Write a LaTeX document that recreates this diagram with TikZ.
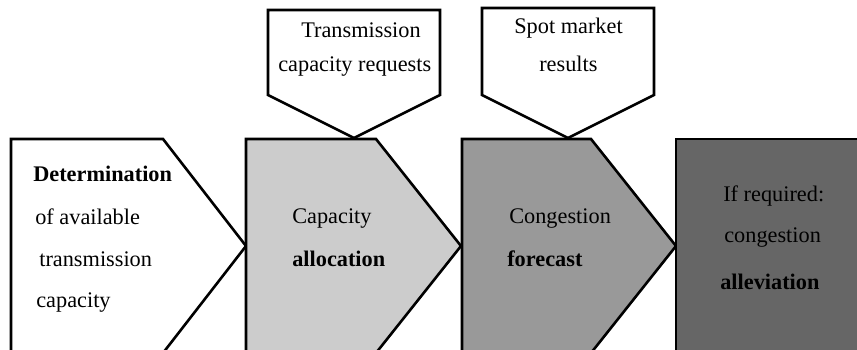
\documentclass[tikz,border=0pt]{standalone}
\usepackage{fontspec}
\setmainfont{Liberation Serif}
\begin{document}
\begin{tikzpicture}[x=1pt, y=-1pt, line width=2.6pt, line join=miter,
  stagebox/.style={draw=black},
  callout/.style={draw=black, fill=white},
  lbl/.style={anchor=base west, inner sep=0pt, text=black,
    font=\fontsize{22.3}{26}\selectfont},
  blbl/.style={lbl, font=\fontsize{22.3}{26}\selectfont\bfseries}]
\definecolor{stageA}{HTML}{CCCCCC}
\definecolor{stageB}{HTML}{999999}
\definecolor{stageC}{HTML}{666666}
\useasboundingbox (0,0) rectangle (857,350);
\begin{scope}
  \clip (0,0) rectangle (857,350);
  % process stages (chevrons running off the lower edge)
  \draw[stagebox, fill=white]  (11,139) -- (163,139) -- (246,246) -- (163,353) -- (11,353) -- cycle;
  \draw[stagebox, fill=stageA] (246,139) -- (376,139) -- (461,246) -- (376,353) -- (246,353) -- cycle;
  \draw[stagebox, fill=stageB] (462,139) -- (591,139) -- (676,246) -- (591,353) -- (462,353) -- cycle;
  \draw[stagebox, fill=stageC] (676,139) -- (880,139) -- (880,370) -- (676,370) -- cycle;
  % input callouts pointing down onto the stages
  \draw[callout] (268,10) -- (440,10) -- (440,95) -- (354,138) -- (268,95) -- cycle;
  \draw[callout] (482,8) -- (654,8) -- (654,95) -- (568,138) -- (482,95) -- cycle;
\end{scope}
% stage 1
\node[blbl] (d1) at (32,182) {Determination};
\node[lbl]  (d2) at (34,224) {of available};
\node[lbl]  (d3) at (38,266) {transmission};
\node[lbl]  (d4) at (35,307) {capacity};
% stage 2
\node[lbl]  (c1) at (291,223) {Capacity};
\node[blbl] (c2) at (291,266) {allocation};
% stage 3
\node[lbl]  (f1) at (508,223) {Congestion};
\node[blbl] (f2) at (506,266) {forecast};
% stage 4
\node[lbl]  (a1) at (722,201) {If required:};
\node[lbl]  (a2) at (723,242) {congestion};
\node[blbl] (a3) at (719,289) {alleviation};
% callout texts
\node[lbl]  (t1) at (300,38) {Transmission};
\node[lbl]  (t2) at (277,72) {capacity requests};
\node[lbl]  (s1) at (513,34) {Spot market};
\node[lbl]  (s2) at (538,72) {results};
\end{tikzpicture}
\end{document}
